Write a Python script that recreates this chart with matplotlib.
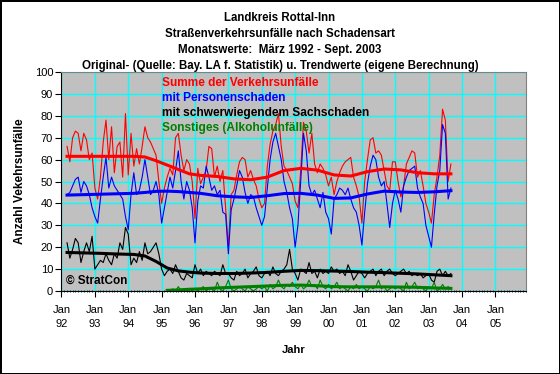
import numpy as np
import matplotlib
matplotlib.use("Agg")
import matplotlib.pyplot as plt

plt.rcParams['font.family'] = ['Liberation Sans', 'DejaVu Sans']

# Monatswerte Maerz 1992 - Sept. 2003 (Monat 2 = Maerz 1992, Monat 0 = Jan 1992)
erster_monat = 2
summe = [66, 59, 70, 73, 72, 64, 72, 69, 60, 63,
         47, 42, 52, 68, 78, 60, 75, 54, 66, 68, 52, 81,
         53, 72, 57, 65, 58, 66, 75, 70, 68, 65, 62, 50,
         40, 47, 52, 56, 53, 70, 72, 62, 55, 60, 58, 50,
         33, 56, 49, 52, 55, 66, 65, 52, 57, 50, 55, 38,
         20, 44, 46, 53, 59, 61, 60, 52, 55, 51, 48, 42,
         38, 40, 57, 67, 73, 76, 81, 66, 57, 55, 52, 49,
         41, 38, 55, 77, 73, 63, 72, 58, 54, 58, 56, 53,
         48, 52, 44, 50, 54, 57, 59, 60, 61, 52, 48, 43,
         31, 50, 60, 69, 70, 63, 64, 62, 55, 48, 46, 59,
         59, 50, 43, 48, 58, 61, 64, 63, 52, 55, 48, 40,
         36, 31, 44, 52, 62, 83, 78, 50, 58]
personen = [44, 45, 48, 51, 52, 45, 50, 48, 44, 38,
            34, 31, 42, 52, 61, 47, 52, 48, 46, 44, 42, 34,
            28, 44, 54, 44, 46, 52, 60, 52, 44, 46, 50, 44,
            31, 38, 45, 52, 47, 55, 64, 50, 42, 50, 46, 38,
            22, 41, 48, 47, 57, 52, 46, 48, 44, 46, 36, 35,
            17, 37, 42, 48, 55, 52, 45, 40, 44, 43, 38, 34,
            30, 34, 47, 60, 68, 72, 66, 60, 50, 45, 38, 33,
            20, 30, 50, 72, 64, 48, 44, 46, 42, 38, 45, 36,
            33, 26, 42, 44, 47, 46, 44, 47, 42, 38, 36, 30,
            21, 36, 49, 57, 62, 60, 52, 48, 50, 40, 29, 40,
            46, 42, 36, 48, 52, 55, 56, 57, 47, 43, 40, 30,
            25, 20, 35, 48, 55, 76, 72, 42, 47]
sachschaden = [22, 15, 19, 24, 22, 13, 18, 22, 18, 25,
               10, 12, 14, 13, 17, 14, 12, 17, 15, 22, 19, 29,
               26, 12, 15, 13, 18, 14, 22, 17, 18, 20, 22, 17,
               10, 7, 9, 10, 8, 12, 9, 6, 5, 8, 7, 6,
               12, 8, 10, 7, 9, 8, 7, 9, 8, 7, 12, 8,
               8, 6, 5, 9, 7, 8, 10, 6, 8, 9, 11, 7,
               6, 8, 9, 7, 11, 8, 7, 9, 10, 12, 19, 10,
               8, 5, 10, 9, 8, 13, 8, 9, 6, 10, 8, 9,
               8, 11, 9, 10, 8, 9, 7, 12, 9, 5, 7, 9,
               8, 6, 8, 9, 10, 7, 9, 10, 7, 9, 10, 8,
               7, 8, 9, 10, 8, 9, 7, 8, 7, 8, 6, 7,
               8, 5, 4, 9, 10, 7, 9, 7, 8]
# Sonstiges erst ab Maerz 1995
sonst_start = 38
sonstiges = [0, 0, 1, 0, 2, 0, 1, 0, 1, 0,
             1, 0, 1, 2, 0, 1, 1, 0, 4, 1, 0, 2,
             5, 1, 0, 1, 2, 1, 0, 2, 1, 0, 1, 2,
             1, 2, 0, 3, 1, 2, 5, 2, 1, 3, 2, 4,
             2, 1, 3, 1, 2, 5, 2, 3, 1, 5, 2, 1,
             3, 1, 2, 4, 1, 2, 1, 0, 2, 1, 3, 1,
             2, 1, 0, 2, 1, 2, 5, 1, 2, 0, 1, 2,
             1, 2, 1, 0, 4, 1, 2, 4, 1, 2, 1, 0,
             2, 1, 4, 0, 1, 3, 1, 2, 1]

trend_monate = [2, 8, 14, 20, 26, 30, 34, 38, 42, 46, 50, 56, 62, 68, 74,
                80, 86, 92, 98, 104, 110, 116, 122, 128, 134, 140]
trend_summe = [61.5, 61.5, 61.5, 61.5, 61.5, 61.2, 59.5, 57.5, 55.5, 53.5, 52.8,
               52.3, 51.2, 50.8, 52, 55, 56, 55.2, 53, 52.5, 54.5, 55.7, 55.3,
               54, 53.5, 53.5]
trend_personen = [43.8, 44, 44.2, 44.4, 44.6, 45, 45.5, 45.6, 45.4, 45, 44.6,
                  43.5, 43, 42.7, 43.5, 44.5, 44.6, 43.8, 42.3, 42.5, 44.3, 45.6,
                  45.2, 45, 45.3, 45.8]
trend_sach = [17.6, 17.4, 17.2, 16.9, 16.7, 16, 13.5, 10.5, 9.2, 8.6, 8.2, 8, 8,
              8.2, 8.5, 9, 9.4, 9.3, 9.1, 8.9, 8.6, 8.4, 8.1, 7.8, 7.4, 7]
trend_sonst = [np.nan] * 7 + [0.3, 0.5, 0.8, 1.0, 1.4, 1.7, 2.0, 2.3, 2.6, 2.7,
                              2.4, 2.0, 1.9, 1.9, 1.9, 1.8, 1.7, 1.4, 1.2]

jahre = ['92', '93', '94', '95', '96', '97', '98', '99', '00', '01', '02', '03', '04', '05']

titel = ("Landkreis Rottal-Inn\nStraßenverkehrsunfälle nach Schadensart\n"
         "Monatswerte:  März 1992 - Sept. 2003\n"
         "Original- (Quelle: Bay. LA f. Statistik) u. Trendwerte (eigene Berechnung)")
legende = [("Summe der Verkehrsunfälle", "red"),
           ("mit Personenschaden", "blue"),
           ("mit schwerwiegendem Sachschaden", "black"),
           ("Sonstiges (Alkoholunfälle)", "green")]

x = np.arange(erster_monat, erster_monat + len(summe))
x_sonst = np.arange(sonst_start, sonst_start + len(sonstiges))

fig = plt.figure(figsize=(5.6, 3.74), dpi=100, facecolor='white',
                 edgecolor='black', linewidth=2)
ax = fig.add_axes([0.1098, 0.2219, 0.8295, 0.5856])
ax.set_facecolor('#C0C0C0')

ax.plot(x, summe, color='red', lw=0.8)
ax.plot(x, personen, color='blue', lw=0.8)
ax.plot(x, sachschaden, color='black', lw=0.8)
ax.plot(x_sonst, sonstiges, color='green', lw=0.8)

ax.plot(trend_monate, trend_summe, color='red', lw=2.2)
ax.plot(trend_monate, trend_personen, color='blue', lw=2.2)
ax.plot(trend_monate, trend_sach, color='black', lw=2.2)
ax.plot(trend_monate, trend_sonst, color='green', lw=2.2)

ax.set_xlim(0, 167)
ax.set_ylim(0, 100)
ax.set_xticks(np.arange(0, 12 * len(jahre), 12))
ax.set_xticklabels(['Jan\n' + j for j in jahre], fontsize=8, linespacing=1.55)
ax.set_xticks(np.arange(0, 168), minor=True)
ax.set_yticks(np.arange(0, 101, 10))
ax.tick_params(axis='y', labelsize=8, length=4, pad=2)
ax.tick_params(axis='x', which='major', length=4, pad=6)
ax.tick_params(axis='x', which='minor', length=2, direction='inout')
ax.grid(True, color='#00FFFF', lw=1)
ax.set_axisbelow(True)

for s in ['top', 'right']:
    ax.spines[s].set_color('#808080')

ax.set_xlabel("Jahr", fontsize=8, fontweight='bold', labelpad=11)
ax.set_ylabel("Anzahl Vekehrsunfälle", fontsize=8.5, fontweight='bold', labelpad=6)

fig.text(0.5, 0.968, titel, ha='center', va='top', fontsize=8.3,
         fontweight='bold', linespacing=1.45)

for i, (txt, col) in enumerate(legende):
    ax.text(0.217, 0.95 - i * 0.068, txt, transform=ax.transAxes, color=col,
            fontsize=8.6, fontweight='bold', va='center')

ax.text(0.01, 0.045, "© StratCon", transform=ax.transAxes, fontsize=8.5,
        fontweight='bold', va='center')

fig.savefig("out.png", dpi=100)
